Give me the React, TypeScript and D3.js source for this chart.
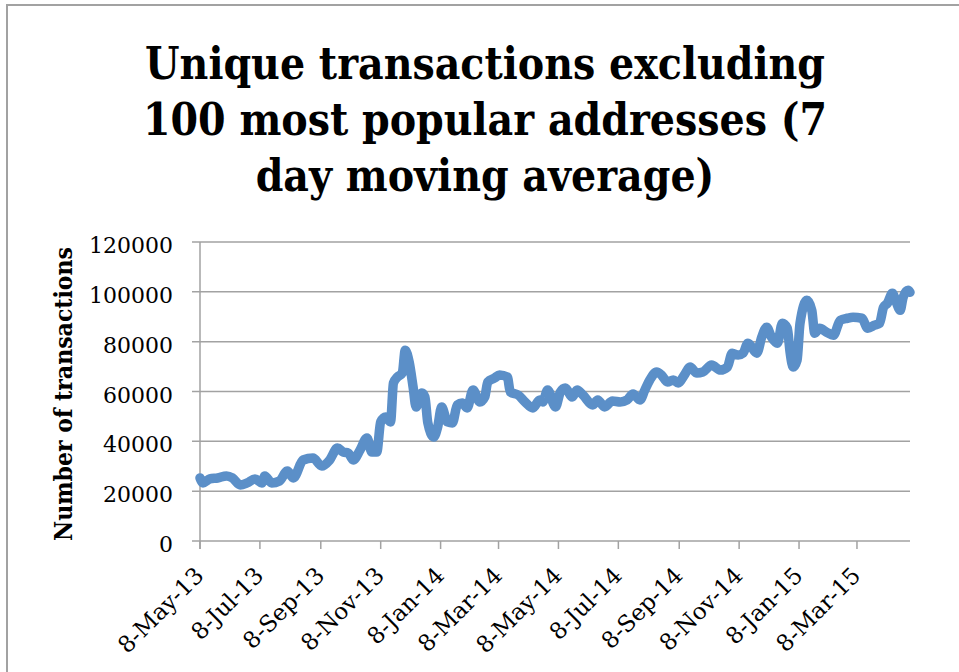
import React, { useEffect, useRef } from 'react';
import * as d3 from 'd3';

// series: days since 8-May-13 and 7 day moving average
const startDate = new Date(2013, 4, 8);
const endDate = new Date(2015, 4, 1);
const dayOffsets = [
  0, 3, 10, 18, 27, 33, 41, 48, 56, 63, 66, 73, 81, 89, 95, 105, 115, 124, 132, 140,
  146, 151, 156, 163, 170, 175, 180, 184, 189, 194, 197, 201, 206, 209, 213, 217, 220, 226, 229, 232,
  238, 242, 246, 252, 257, 262, 267, 272, 278, 285, 290, 293, 300, 305, 313, 316, 324, 331, 339, 346,
  349, 354, 362, 367, 372, 379, 384, 390, 400, 405, 412, 420, 428, 435, 441, 448, 453, 458, 465, 470,
  476, 482, 487, 493, 499, 506, 512, 521, 530, 537, 542, 548, 553, 558, 567, 572, 577, 582, 588, 593,
  598, 601, 604, 608, 611, 618, 623, 626, 631, 638, 645, 652, 659, 665, 674, 680, 687, 692, 696, 700,
  705, 709, 713, 716, 721, 723,
];
const txCounts = [
  25300, 23300, 24900, 25300, 26100, 25300, 22500, 23300, 24900, 23300, 26100, 23300, 24100, 28100, 25300, 32500, 33300, 30100, 32500, 37300,
  35700, 35300, 32500, 36500, 41300, 35700, 35700, 47800, 49800, 47800, 63400, 65800, 67400, 76600, 71800, 61800, 53800, 59400, 57800, 47400,
  41700, 45700, 53800, 47800, 47400, 54600, 55400, 53400, 60600, 55800, 57800, 63800, 65400, 66600, 65800, 59800, 58600, 55800, 53400, 56600,
  55800, 60600, 53800, 59800, 61400, 57800, 60600, 58600, 54600, 56600, 53800, 56200, 55800, 56600, 59000, 56600, 60600, 64600, 67800, 66600,
  63800, 64600, 63400, 66500, 69800, 67400, 67800, 70600, 68600, 69800, 75400, 74600, 75400, 79400, 75400, 81800, 85800, 81800, 79400, 87400,
  85400, 75400, 69800, 72600, 87400, 96600, 92600, 83400, 85400, 83800, 82600, 88600, 89400, 89800, 89400, 85400, 86600, 87400, 93800, 95400,
  99400, 95800, 92600, 97800, 100600, 99800,
];
const yTicks = [0, 20000, 40000, 60000, 80000, 100000, 120000];
const titleLines = ['Unique transactions excluding', '100 most popular addresses (7', 'day moving average)'];

const W = 959;
const H = 672;

const App = () => {
  const ref = useRef<SVGSVGElement>(null);

  useEffect(() => {
    const svg = d3.select(ref.current);
    svg.selectAll('*').remove();

    const margin = { top: 242, right: 49, bottom: 131, left: 200 };
    const width = W - margin.left - margin.right;
    const height = H - margin.top - margin.bottom;
    const font = "'DejaVu Serif', serif";
    const grey = '#a2a2a2';

    // outer frame, only top and left edges fall inside the picture
    svg.append('rect')
      .attr('x', 7).attr('y', 5)
      .attr('width', 1200).attr('height', 1200)
      .attr('fill', 'white')
      .attr('stroke', grey).attr('stroke-width', 2);

    // title
    svg.append('g').selectAll('text')
      .data(titleLines)
      .enter()
      .append('text')
        .attr('x', 485)
        .attr('y', (d, i) => 79 + i * 56)
        .attr('text-anchor', 'middle')
        .style('font-family', font)
        .style('font-stretch', 'condensed')
        .style('font-weight', 'bold')
        .style('font-size', '44px')
        .text(d => d);

    const g = svg.append('g')
      .attr('transform', 'translate(' + margin.left + ',' + margin.top + ')');

    const x = d3.scaleTime().domain([startDate, endDate]).range([0, width]);
    const y = d3.scaleLinear().domain([0, 120000]).range([height, 0]);

    // gridlines
    g.append('g').selectAll('line')
      .data(yTicks)
      .enter()
      .append('line')
        .attr('x1', -8).attr('x2', width)
        .attr('y1', d => y(d)).attr('y2', d => y(d))
        .attr('stroke', grey).attr('stroke-width', 1.5);

    // y axis line
    g.append('line')
      .attr('x1', 0).attr('x2', 0)
      .attr('y1', 0).attr('y2', height + 8)
      .attr('stroke', grey).attr('stroke-width', 1.5);

    // y tick labels
    g.append('g').selectAll('text')
      .data(yTicks)
      .enter()
      .append('text')
        .attr('x', -27)
        .attr('y', d => y(d) + 11)
        .attr('text-anchor', 'end')
        .style('font-family', font)
        .style('font-size', '22px')
        .text(d => String(d));

    // x ticks every two months on the 8th
    const xTicks = d3.timeMonth.every(2)!
      .range(new Date(2013, 4, 1), endDate)
      .map(d => new Date(d.getFullYear(), d.getMonth(), 8));
    const fmt = d3.timeFormat('%b-%y');

    g.append('g').selectAll('line')
      .data(xTicks)
      .enter()
      .append('line')
        .attr('x1', d => x(d)).attr('x2', d => x(d))
        .attr('y1', height).attr('y2', height + 8)
        .attr('stroke', grey).attr('stroke-width', 1.5);

    g.append('g').selectAll('text')
      .data(xTicks)
      .enter()
      .append('text')
        .attr('text-anchor', 'end')
        .attr('transform', d => 'translate(' + (x(d) + 5) + ',' + (height + 36) + ') rotate(-45)')
        .style('font-family', font)
        .style('font-size', '23px')
        .text(d => '8-' + fmt(d));

    // y axis title
    svg.append('text')
      .attr('text-anchor', 'middle')
      .attr('transform', 'translate(72,394) rotate(-90)')
      .style('font-family', font)
      .style('font-stretch', 'condensed')
      .style('font-weight', 'bold')
      .style('font-size', '24.5px')
      .text('Number of transactions');

    // the series
    const data = dayOffsets.map((d, i) => ({ date: d3.timeDay.offset(startDate, d), value: txCounts[i] }));
    const line = d3.line<{ date: Date; value: number }>()
      .x(d => x(d.date))
      .y(d => y(d.value))
      .curve(d3.curveMonotoneX);

    g.append('path')
      .datum(data)
      .attr('d', line)
      .attr('fill', 'none')
      .attr('stroke', '#5b8fc8')
      .attr('stroke-width', 9.5)
      .attr('stroke-linejoin', 'round')
      .attr('stroke-linecap', 'round');
  }, []);

  return (
    <div>
      <svg ref={ref} width={W} height={H} style={{ position: 'absolute', left: 0, top: 0, background: 'white' }}></svg>
    </div>
  );
};

export default App;
